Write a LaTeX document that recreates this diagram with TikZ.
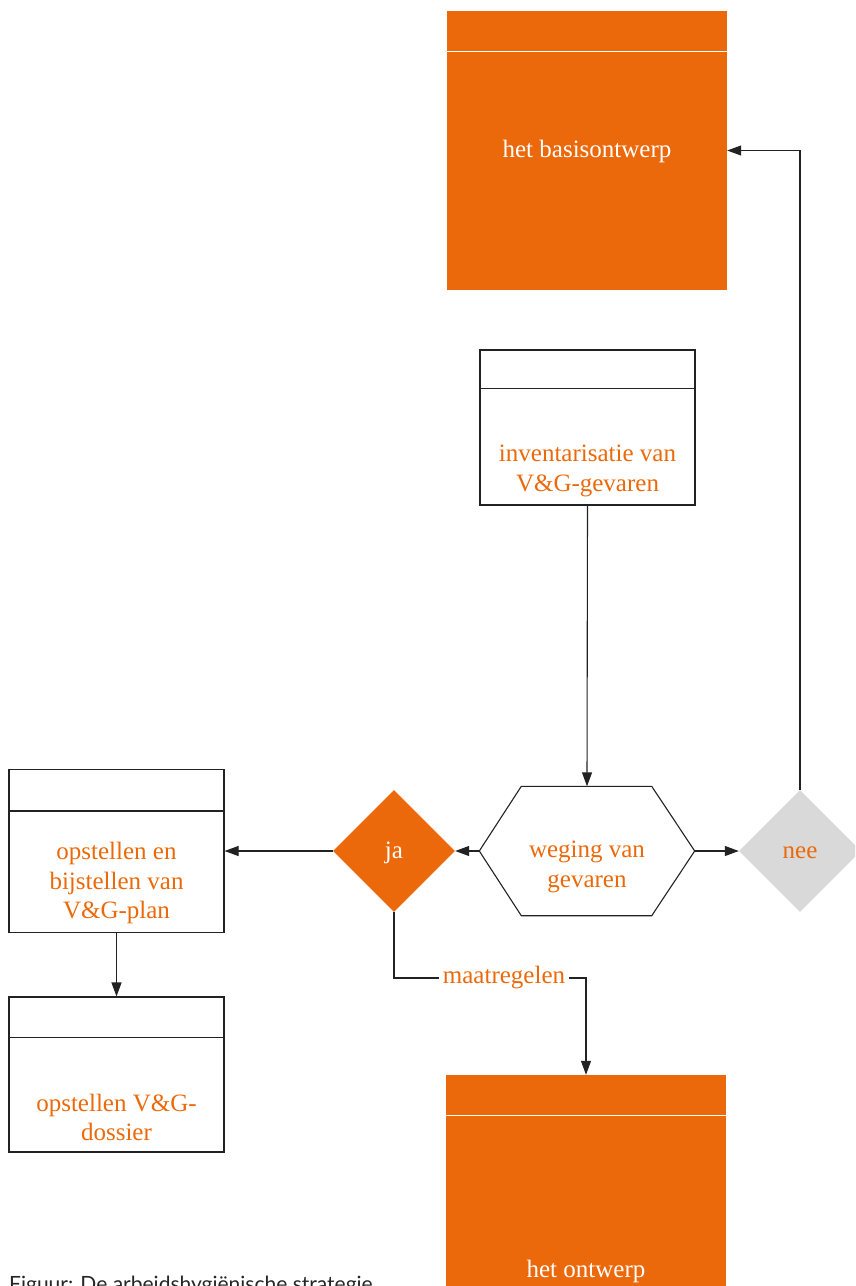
\documentclass[tikz,border=0pt]{standalone}
\usepackage{fontspec}
\setmainfont{Liberation Serif}
\newfontfamily\capfont{Lato}
\usetikzlibrary{shapes,shapes.geometric,arrows.meta,calc,positioning}
\definecolor{oranje}{RGB}{235,105,10}
\definecolor{grijs}{RGB}{217,217,217}
\definecolor{lijn}{RGB}{34,34,34}
\tikzset{box/.style={draw=lijn, line width=1.1pt, minimum width=215pt, minimum height=155pt, inner sep=0pt}}
\tikzset{obox/.style={fill=oranje, minimum width=280pt, minimum height=279pt, inner sep=0pt}}
\tikzset{ruit/.style={diamond, aspect=1, minimum width=122pt, minimum height=122pt, inner sep=0pt,
  text height=14pt, text depth=0pt, font=\fontsize{25}{29.5}\selectfont}}
\tikzset{txt/.style={text=oranje, align=center, inner sep=0pt, font=\fontsize{25}{29.5}\selectfont}}
\tikzset{wtxt/.style={txt, text=white}}
\tikzset{pijl/.style={->, draw=lijn, line width=1.1pt}}
\tikzstyle{kop}=[line width=1.1pt]

\begin{document}
\begin{tikzpicture}[x=1pt, y=-1pt, >={Triangle[length=14pt,width=10pt]}]
\clip (0,0) rectangle (855,1286);
% blokken
\node[obox] (basis) at (587,150.5) {};
\draw[kop, white] ([yshift=-41pt]basis.north west) -- ([yshift=-41pt]basis.north east);
\node[wtxt] (basisT) at (587,151) {het basisontwerp};

\node[box] (inv) at (587.5,427.5) {};
\draw[kop, lijn] ([yshift=-39pt]inv.north west) -- ([yshift=-39pt]inv.north east);
\node[txt] (invT) at (587.5,471) {inventarisatie van\\V\&G-gevaren};

\node[minimum width=215pt, minimum height=129pt, inner sep=0pt] (hex) at (587,851) {};
\draw[kop, lijn] (hex.west) -- ([xshift=42pt]hex.north west) -- ([xshift=-43pt]hex.north east)
  -- (hex.east) -- ([xshift=-43pt]hex.south east) -- ([xshift=42pt]hex.south west) -- cycle;
\node[txt] (hexT) at (587,867) {weging van\\gevaren};

\node[ruit, fill=oranje, text=white] (ja) at (394,851) {ja};
\node[ruit, fill=grijs, text=oranje] (nee) at (800,851) {nee};

\node[box, minimum height=163pt] (plan) at (116.5,851) {};
\draw[kop, lijn] ([yshift=-42pt]plan.north west) -- ([yshift=-42pt]plan.north east);
\node[txt] (planT) at (116.5,883) {opstellen en\\bijstellen van\\V\&G-plan};

\node[box] (dossier) at (116.5,1074.5) {};
\draw[kop, lijn] ([yshift=-41pt]dossier.north west) -- ([yshift=-41pt]dossier.north east);
\node[txt] (dossierT) at (116.5,1117.5) {opstellen V\&G-\\dossier};

\node[obox] (ontwerp) at (586,1214.5) {};
\draw[kop, white] ([yshift=-41pt]ontwerp.north west) -- ([yshift=-41pt]ontwerp.north east);
\node[wtxt] (ontwerpT) at (586,1271) {het ontwerp};

\node[txt, inner xsep=4pt] (maat) at (504,978) {maatregelen};

% verbindingen
\draw[pijl] (inv.south) -- (hex.north);
\draw[pijl] (hex.west) -- (ja.east);
\draw[pijl] (hex.east) -- (nee.west);
\draw[pijl] (nee.north) |- (basis.east);
\draw[pijl] (ja.west) -- (plan.east);
\draw[pijl] (plan.south) -- (dossier.north);
\draw[draw=lijn, line width=1.1pt] (ja.south) |- (maat.west);
\draw[pijl] (maat.east) -| (ontwerp.north);

\node[anchor=base west, inner sep=0pt, text=black!85, font=\capfont\fontsize{21}{24}\selectfont] (cap) at (9,1291) {Figuur: De arbeidshygiënische strategie};
\end{tikzpicture}
\end{document}
